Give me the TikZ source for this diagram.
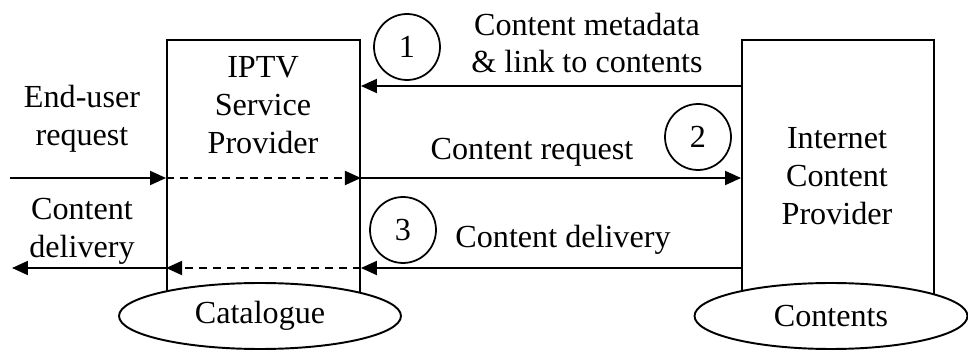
\documentclass[tikz,border=0pt]{standalone}
\usepackage{fontspec}
\setmainfont{Liberation Serif}
\usetikzlibrary{positioning, arrows.meta, shapes}

\tikzset{
  box/.style={draw, line width=1.1pt, minimum width=3.86cm, minimum height=5.4cm, inner sep=0pt},
  store/.style={ellipse, draw, fill=white, line width=1.1pt, minimum height=1.32cm, inner sep=0pt},
  stepnum/.style={circle, draw, line width=1pt, minimum size=1.32cm, inner sep=0pt},
  lbl/.style={align=center, inner sep=0pt},
  arr/.style={line width=1.1pt, -{Triangle[length=0.32cm, width=0.28cm]}},
  dasharr/.style={arr, dash pattern=on 0.16cm off 0.12cm},
}

\begin{document}
\begin{tikzpicture}[x=0.02cm, y=-0.02cm, font=\fontsize{18.3}{21.5}\selectfont]
  \useasboundingbox (0,0) rectangle (968,351);

  % the two providers
  \node[box] (isp) at (263.5,175) {};
  \node[box, minimum width=3.84cm] (icp) at (838,175) {};
  \node[lbl] (ispname) at (263,105) {IPTV\\Service\\Provider};
  \node[lbl] (icpname) at (837,176) {Internet\\Content\\Provider};

  % stores under the boxes
  \node[store, minimum width=5.64cm] (cat) at (260,316) {Catalogue};
  \node[store, minimum width=5.46cm] (cnt) at (831,316) {Contents};

  % rows of the messages
  \coordinate (row1) at (0,86);
  \coordinate (row2) at (0,178);
  \coordinate (row3) at (0,268);
  \coordinate (userin) at (10,178);
  \coordinate (userout) at (12,268);

  % 1: metadata
  \draw[arr] (icp.west |- row1) -- (isp.east |- row1);
  \node[stepnum] (s1) at (407,47) {1};
  \node[lbl] (meta) at (587,43) {Content metadata\\\& link to contents};

  % 2: request
  \draw[arr] (userin) -- (isp.west |- row2);
  \draw[dasharr] (isp.west |- row2) -- (isp.east |- row2);
  \draw[arr] (isp.east |- row2) -- (icp.west |- row2);
  \node[stepnum] (s2) at (698,137) {2};
  \node[lbl] (req) at (532,152) {Content request};
  \node[lbl] (userreq) at (82,119) {End-user\\request};

  % 3: delivery
  \draw[arr] (icp.west |- row3) -- (isp.east |- row3);
  \draw[dasharr] (isp.east |- row3) -- (isp.west |- row3);
  \draw[arr] (isp.west |- row3) -- (userout);
  \node[stepnum] (s3) at (403,230) {3};
  \node[lbl] (deliv) at (563,240) {Content delivery};
  \node[lbl] (userdeliv) at (82,231) {Content\\delivery};
\end{tikzpicture}
\end{document}
